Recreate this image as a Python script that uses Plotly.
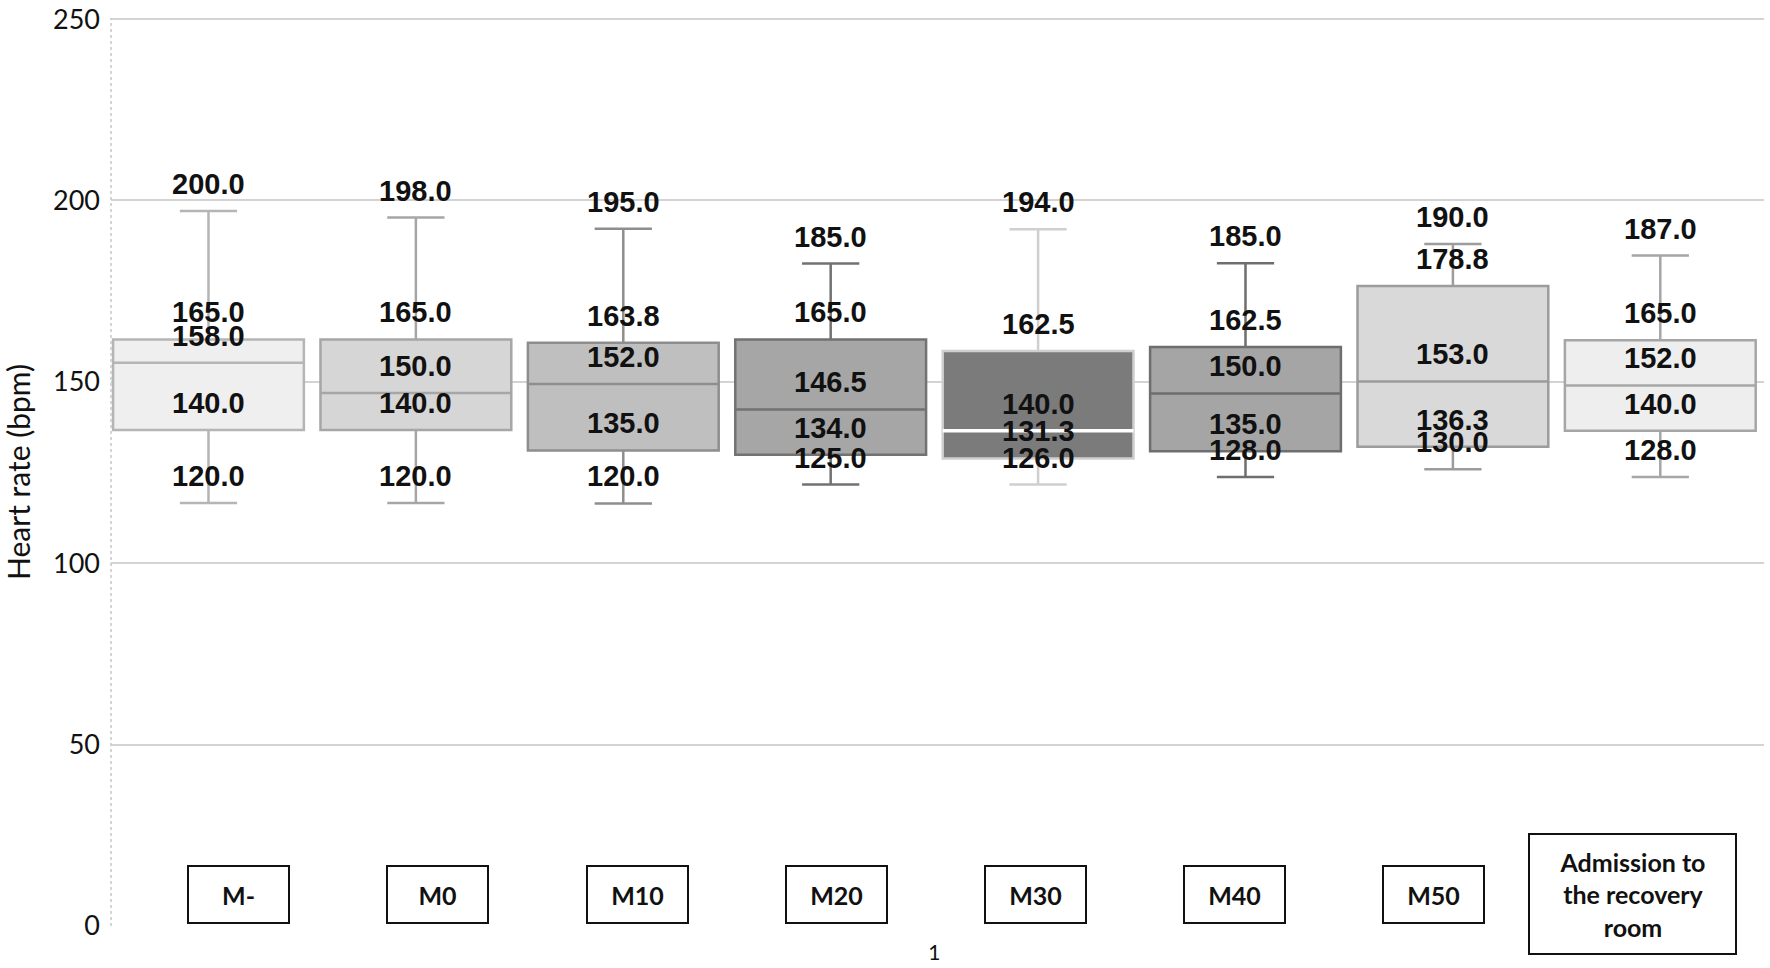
import plotly.graph_objects as go

# ---------------- data ----------------
categories = ["M-", "M0", "M10", "M20", "M30", "M40", "M50",
              "Admission to<br>the recovery<br>room"]

# drawn box geometry (bpm)
upper_whisker = [197.1, 195.3, 192.2, 182.6, 192.1, 182.7, 188.0, 184.8]
box_q3        = [161.7, 161.7, 160.8, 161.7, 158.5, 159.6, 176.4, 161.5]
box_median    = [155.3, 146.9, 149.4, 142.4, 136.5, 146.8, 150.1, 149.0]
box_q1        = [136.7, 136.7, 131.1, 129.9, 128.9, 130.9, 132.1, 136.5]
lower_whisker = [116.6, 116.6, 116.5, 121.7, 121.7, 123.8, 125.9, 123.8]

# printed value labels
label_top    = [200.0, 198.0, 195.0, 185.0, 194.0, 185.0, 190.0, 187.0]
label_q3     = [165.0, 165.0, 163.8, 165.0, 162.5, 162.5, 178.8, 165.0]
label_median = [158.0, 150.0, 152.0, 146.5, 140.0, 150.0, 153.0, 152.0]
label_q1     = [140.0, 140.0, 135.0, 134.0, 131.3, 135.0, 136.3, 140.0]
label_bottom = [120.0, 120.0, 120.0, 125.0, 126.0, 128.0, 130.0, 128.0]

y_ticks = [0, 50, 100, 150, 200, 250]
x_tick_labels = ["1"]

# ---------------- styles ----------------
fills = ["#efefef", "#d6d6d6", "#bfbfbf", "#a6a6a6", "#7b7b7b", "#a5a5a5", "#d9d9d9", "#eeeeee"]
lines = ["#b5b5b5", "#a6a6a6", "#8e8e8e", "#727272", "#cfcfcf", "#6e6e6e", "#9c9c9c", "#a6a6a6"]
BOX_W = 0.92

fig = go.Figure()

for i, cat in enumerate(categories):
    fig.add_trace(go.Box(
        x=[i], q1=[box_q1[i]], median=[box_median[i]], q3=[box_q3[i]],
        lowerfence=[lower_whisker[i]], upperfence=[upper_whisker[i]],
        width=BOX_W, whiskerwidth=0.3, fillcolor=fills[i],
        line=dict(color=lines[i], width=2.5),
        boxpoints=False, showlegend=False, hoverinfo="skip", name=cat.replace("<br>", " "),
    ))

# white median line of the dark M30 box
fig.add_shape(type="line", xref="x", yref="y",
              x0=4 - BOX_W / 2, x1=4 + BOX_W / 2,
              y0=box_median[4], y1=box_median[4],
              line=dict(color="white", width=3.5))

# value labels above each statistic
for i in range(len(categories)):
    pairs = [(upper_whisker[i], label_top[i]), (box_q3[i], label_q3[i]),
             (box_median[i], label_median[i]), (box_q1[i], label_q1[i]),
             (lower_whisker[i], label_bottom[i])]
    for yv, lab in pairs:
        fig.add_annotation(x=i, y=yv, xref="x", yref="y", text=f"{lab:.1f}",
                           showarrow=False, yanchor="middle", yshift=27,
                           font=dict(family="Liberation Sans, Arial", size=29,
                                     color="#111111", weight=700))

# boxed category labels at the bottom of the plot
for i, cat in enumerate(categories):
    big = "<br>" in cat
    fig.add_annotation(x=i, y=0, xref="x", yref="paper", text=cat,
                       showarrow=False, yanchor="middle", yshift=32,
                       xshift=30.2 - 8.23 * i,
                       width=201 if big else 95, height=114 if big else 51,
                       align="center", valign="middle",
                       bgcolor="white", bordercolor="#111111", borderwidth=2, borderpad=2,
                       font=dict(family="Lato", size=25, color="#111111", weight=700))

# dotted left frame line
fig.add_shape(type="line", xref="paper", yref="paper", x0=0, x1=0, y0=0, y1=1,
              line=dict(color="#c8c8c8", width=1.5, dash="dot"))

fig.update_layout(
    width=1770, height=968,
    margin=dict(l=111, r=6, t=18, b=42),
    plot_bgcolor="white", paper_bgcolor="white",
    boxmode="overlay", showlegend=False,
    xaxis=dict(range=[-0.47, 7.5], showgrid=False, zeroline=False, showline=False,
               tickmode="array", tickvals=[3.5], ticktext=x_tick_labels,
               tickfont=dict(family="Lato", size=21, color="#111111"),
               ticks="", ticklabelstandoff=12, automargin=False),
    yaxis=dict(range=[0, 250.3], tickmode="array", tickvals=y_ticks,
               showgrid=True, gridcolor="#d3d3d3", gridwidth=2,
               zeroline=False, showline=False, ticks="",
               tickfont=dict(family="Lato", size=27, color="#111111"),
               ticklabelstandoff=10, ticklabeloverflow="allow", automargin=False,
               title=dict(text="Heart rate (bpm)", standoff=14,
                          font=dict(family="Lato", size=30, color="#111111"))),
)

fig.write_html("out.html", config={"displayModeBar": False},
               post_script="document.body.style.margin='0';document.body.style.overflow='hidden';")
